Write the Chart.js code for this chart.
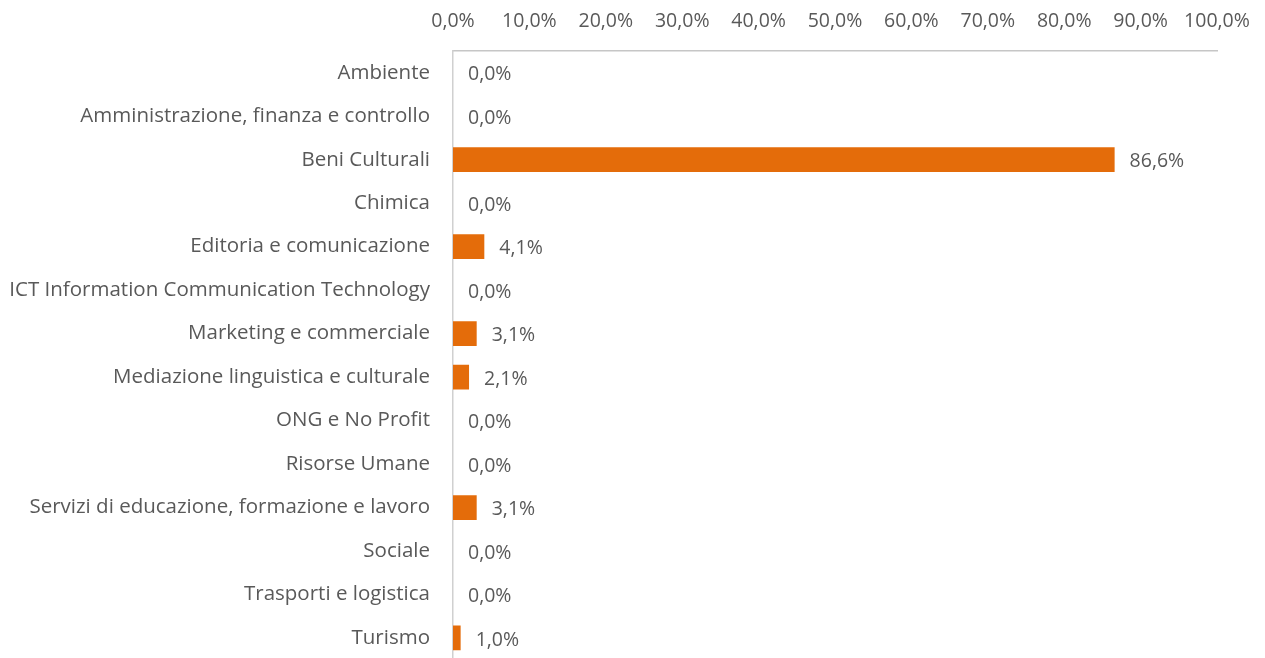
<!DOCTYPE html>
<html>
<head>
<meta charset="utf-8">
<script src="https://cdn.jsdelivr.net/npm/chart.js@4"></script>
<style>
  html, body { margin: 0; padding: 0; background: #ffffff; overflow: hidden; }
  #wrap { position: relative; width: 1265px; height: 695px; }
</style>
</head>
<body>
<div id="wrap"><canvas id="chart"></canvas></div>
<script>
const categories = [
  "Ambiente",
  "Amministrazione, finanza e controllo",
  "Beni Culturali",
  "Chimica",
  "Editoria e comunicazione",
  "ICT Information Communication Technology",
  "Marketing e commerciale",
  "Mediazione linguistica e culturale",
  "ONG e No Profit",
  "Risorse Umane",
  "Servizi di educazione, formazione e lavoro",
  "Sociale",
  "Trasporti e logistica",
  "Turismo"
];
const shares = [0, 0, 86.6, 0, 4.1, 0, 3.1, 2.1, 0, 0, 3.1, 0, 0, 1.0];
const tickValues = [0, 10, 20, 30, 40, 50, 60, 70, 80, 90, 100];

const FONT = "'Open Sans', Lato, sans-serif";
const TEXT = "#595959";

function pctLabel(value) {
  return Number(value).toFixed(1).replace(".", ",") + "%";
}

const valueLabels = {
  id: "valueLabels",
  afterDatasetsDraw(chart) {
    const { ctx } = chart;
    const meta = chart.getDatasetMeta(0);
    ctx.save();
    ctx.font = "19.5px " + FONT;
    ctx.fillStyle = TEXT;
    ctx.textAlign = "left";
    ctx.textBaseline = "middle";
    meta.data.forEach((bar, i) => {
      ctx.fillText(pctLabel(shares[i]), bar.x + 15, bar.y + 2);
    });
    ctx.restore();
  }
};

new Chart(document.getElementById("chart"), {
  type: "bar",
  data: {
    labels: categories,
    datasets: [{
      data: shares,
      backgroundColor: "#e46c0a",
      borderWidth: 0,
      categoryPercentage: 0.57,
      barPercentage: 1
    }]
  },
  plugins: [valueLabels],
  options: {
    indexAxis: "y",
    responsive: true,
    maintainAspectRatio: false,
    animation: false,
    layout: { padding: { left: 0, right: 48, top: 0, bottom: 0 } },
    plugins: {
      legend: { display: false },
      tooltip: { enabled: false }
    },
    scales: {
      x: {
        position: "top",
        min: 0,
        max: 100,
        afterBuildTicks(axis) {
          axis.ticks = tickValues.map((v) => ({ value: v }));
        },
        afterFit(axis) {
          axis.height = 51;
          axis.paddingLeft = 0;
          axis.paddingRight = 0;
        },
        ticks: {
          callback: (v) => pctLabel(v),
          color: TEXT,
          font: { family: FONT, size: 19.5 },
          padding: 18,
          maxRotation: 0,
          autoSkip: false
        },
        grid: { display: false, drawTicks: false },
        border: { display: true, color: "#c6c6c6", width: 1.5 }
      },
      y: {
        afterFit(axis) { axis.width = 453; },
        ticks: {
          color: TEXT,
          font: { family: FONT, size: 20.5 },
          padding: 23,
          autoSkip: false
        },
        grid: { display: false, drawTicks: false },
        border: { display: true, color: "#d0d0d0", width: 1.5 }
      }
    }
  }
});
</script>
</body>
</html>
